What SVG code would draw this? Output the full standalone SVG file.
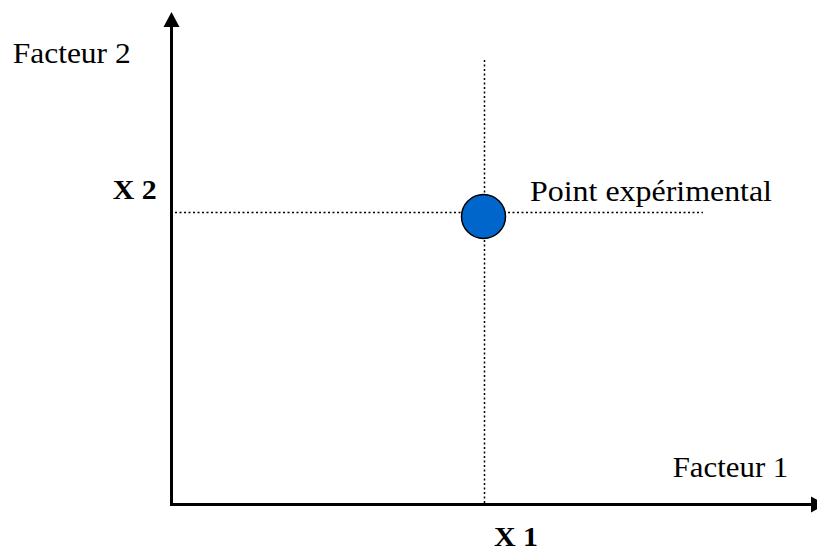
<svg xmlns="http://www.w3.org/2000/svg" width="817" height="553" viewBox="0 0 817 553">
<style>
.lbl{font-family:"Liberation Serif","Times New Roman",serif;font-size:29px;fill:#000}
.val{font-family:"Liberation Serif","Times New Roman",serif;font-size:27px;font-weight:bold;fill:#000}
.axis{stroke:#000;stroke-width:3;fill:none}
.dot{stroke:#000;stroke-width:1.5;stroke-dasharray:2 2.5;fill:none}
</style>
<rect width="817" height="553" fill="#fff"/>
<g id="connectors">
<line class="dot" x1="484.5" y1="60" x2="484.5" y2="503"/>
<line class="dot" x1="175" y1="212.5" x2="703" y2="212.5"/>
</g>
<g id="axes">
<polyline class="axis" points="171.5,26 171.5,504.5 812,504.5"/>
<polygon points="171.5,12 163.5,27 179.5,27" fill="#000"/>
<polygon points="826,504.5 811,496.5 811,512.5" fill="#000"/>
</g>
<g id="point">
<circle cx="483.5" cy="216.5" r="22" fill="#0066CC" stroke="#000" stroke-width="1.5"/>
</g>
<g id="labels">
<text class="lbl" x="12.7" y="63" textLength="118" lengthAdjust="spacingAndGlyphs">Facteur 2</text>
<text class="lbl" x="530" y="200.7" textLength="242" lengthAdjust="spacingAndGlyphs">Point expérimental</text>
<text class="lbl" x="672.7" y="476.7" textLength="115.6" lengthAdjust="spacingAndGlyphs">Facteur 1</text>
<text class="val" x="112.7" y="199.3" textLength="44" lengthAdjust="spacingAndGlyphs">X 2</text>
<text class="val" x="494" y="546" textLength="44" lengthAdjust="spacingAndGlyphs">X 1</text>
</g>
</svg>
